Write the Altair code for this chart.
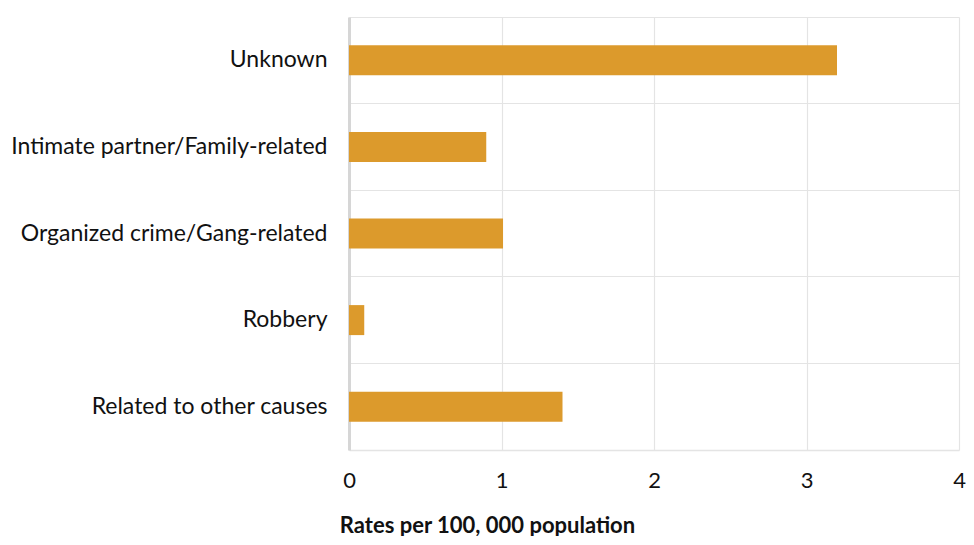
import altair as alt
import pandas as pd

categories = ["Unknown", "Intimate partner/Family-related", "Organized crime/Gang-related",
              "Robbery", "Related to other causes"]
values = [3.2, 0.9, 1.01, 0.1, 1.4]

df = pd.DataFrame({"cause": categories, "rate": values})

FONT = "Lato"

bars = alt.Chart(df).mark_bar(color="#DC9A2C", size=30).encode(
    x=alt.X("rate:Q",
            scale=alt.Scale(domain=[0, 4], nice=False),
            axis=alt.Axis(values=[0, 1, 2, 3, 4], format="d", grid=True,
                          gridColor="#e4e4e4", gridWidth=1.2,
                          domain=True, domainColor="#e4e4e4", domainWidth=1.5,
                          ticks=False, labelFont=FONT, labelFontSize=22,
                          labelFlush=False,
                          labelColor="#111111", labelPadding=20,
                          title="Rates per 100, 000 population",
                          titleFont=FONT, titleFontSize=22, titleFontWeight="bold",
                          titleColor="#111111", titleX=138, titleY=75,
                          titleAnchor="middle", titleAlign="center",
                          titleBaseline="middle")),
    y=alt.Y("cause:N", sort=categories,
            scale=alt.Scale(paddingInner=0, paddingOuter=0),
            axis=alt.Axis(title=None, grid=True, bandPosition=0,
                          gridColor="#e4e4e4", gridWidth=1.2,
                          domain=True, domainColor="#d6d6d6", domainWidth=3,
                          ticks=False, labelFont=FONT, labelFontSize=23,
                          labelColor="#111111", labelPadding=22, labelLimit=400)),
).properties(
    width=610, height=433,
    autosize=alt.AutoSizeParams(type="none"),
    padding={"left": 341, "top": 9, "right": 7, "bottom": 86},
).configure_view(stroke=None)

bars.save("out.html", embed_options={"renderer": "svg", "actions": False})
